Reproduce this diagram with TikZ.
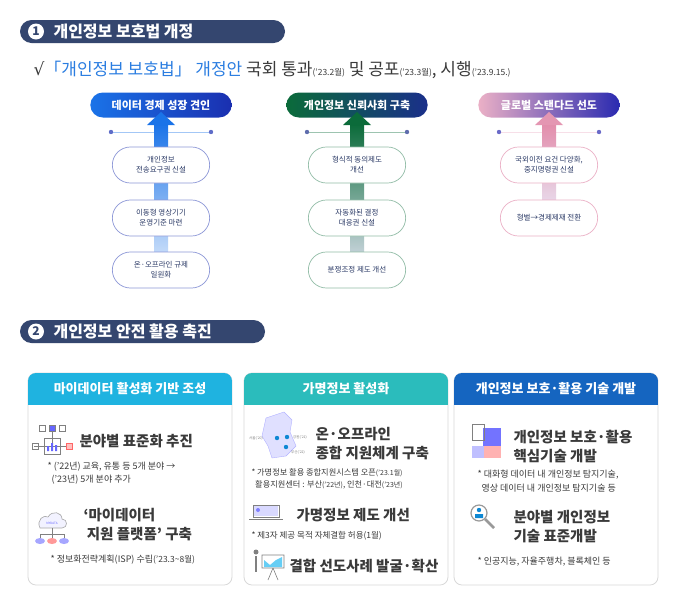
\documentclass[tikz,border=0pt]{standalone}
\usepackage{fontspec}
\setmainfont{Noto Sans CJK KR}
\newfontfamily\djv{DejaVu Sans}
\usetikzlibrary{shapes.misc,arrows.meta}
\definecolor{navy}{HTML}{34466F}
\definecolor{txt}{HTML}{3A3A3A}
\definecolor{blu}{HTML}{2A7DE1}
\definecolor{cyanh}{HTML}{1FB3E0}
\definecolor{tealh}{HTML}{2BBCBC}
\definecolor{blueh}{HTML}{1565C0}
\definecolor{c1a}{HTML}{1A73E8}\definecolor{c1b}{HTML}{1A2FB0}
\definecolor{c2a}{HTML}{0B6B3A}\definecolor{c2b}{HTML}{1A2F8A}
\definecolor{c3a}{HTML}{EBB0C6}\definecolor{c3b}{HTML}{2A2AB0}
\definecolor{pilltxt}{HTML}{2B3A66}
\tikzset{
 secbar/.style={fill=navy,rounded corners=11.5},
 sectext/.style={anchor=west,text=white,font=\fontsize{16}{18}\selectfont\bfseries},
 colhead/.style={rounded rectangle,text=white,minimum width=148,minimum height=25,font=\fontsize{11}{13}\selectfont\bfseries},
 pill/.style={rounded rectangle,fill=white,draw=#1,line width=0.7,minimum width=104,minimum height=36,align=center,text=pilltxt,font=\fontsize{7.5}{10}\selectfont},
 box/.style={rounded corners=8,draw=black!15,fill=white,line width=0.8},
 bh/.style={text=white,font=\fontsize{13}{15}\selectfont\bfseries},
 big/.style={anchor=west,text=txt,align=left,font=\fontsize{14.5}{19}\selectfont\bfseries},
 note/.style={anchor=west,text=txt,align=left,font=\fontsize{9}{13.5}\selectfont},
 numc/.style={circle,fill=white,minimum size=16,inner sep=0,text=navy,font=\fontsize{12}{12}\selectfont\bfseries},
}
\newcommand{\sm}[1]{{\fontsize{8.5}{9}\selectfont #1}}
\begin{document}
\begin{tikzpicture}[x=1pt,y=-1pt]
\useasboundingbox (0,0) rectangle (688,606);
\fill[white] (0,0) rectangle (688,606);
% section 1
\fill[secbar] (20,20) rectangle (285,43);
\node[numc] (n1) at (36,31.5) {1};
\node[sectext] (s1) at (50,31.5) {개인정보 보호법 개정};
\node[anchor=west,text=txt,font=\fontsize{17}{20}\selectfont] (law) at (30,70) {{\djv √}\textcolor{blu}{「개인정보 보호법」 개정안} 국회 통과\sm{('23.2월)} 및 공포\sm{('23.3월)}, 시행\sm{('23.9.15.)}};
% columns
\foreach \cx/\ca/\cb/\n/\t in {161/c1a/c1b/1/데이터 경제 성장 견인,357/c2a/c2b/2/개인정보 신뢰사회 구축,549/c3a/c3b/3/글로벌 스탠다드 선도}{
  \draw[\ca!40,line width=0.6] (\cx-50,132) -- (\cx+50,132);
  \fill[\cb!70] (\cx-50,132) circle (2.2) (\cx+50,132) circle (2.2);
  \node[colhead,left color=\ca,right color=\cb] (h\n) at (\cx,105) {\t};
}
% arrows
\shade[top color=c1a,bottom color=c1a!15] (154,124) rectangle (168,272);
\fill[c1a] (147,125) -- (161,112) -- (175,125) -- cycle;
\shade[top color=c2a,bottom color=c2b!15] (350,124) rectangle (364,272);
\fill[c2a] (343,125) -- (357,112) -- (371,125) -- cycle;
\shade[top color=c3a!80!purple,bottom color=c3b!10] (542,124) rectangle (556,220);
\fill[c3a!85!purple] (535,125) -- (549,112) -- (563,125) -- cycle;
% pills
\node[pill=c1b!50] (p11) at (161,165) {개인정보\\전송요구권 신설};
\node[pill=c1b!50] (p12) at (161,218) {이동형 영상기기\\운영기준 마련};
\node[pill=c1b!50] (p13) at (161,270) {온·오프라인 규제\\일원화};
\node[pill=c2a!45] (p21) at (357,165) {형식적 동의제도\\개선};
\node[pill=c2a!45] (p22) at (357,218) {자동화된 결정\\대응권 신설};
\node[pill=c2a!45] (p23) at (357,270) {분쟁조정 제도 개선};
\node[pill=c3a] (p31) at (549,165) {국외이전 요건 다양화,\\중지명령권 신설};
\node[pill=c3a] (p32) at (549,218) {형벌→경제제재 전환};
% section 2
\fill[secbar] (20,320) rectangle (265,343);
\node[numc] (n2) at (36,331.5) {2};
\node[sectext] (s2) at (50,331.5) {개인정보 안전 활용 촉진};
% boxes
\foreach \x/\c/\n/\t in {28/cyanh/1/마이데이터 활성화 기반 조성,244/tealh/2/가명정보 활성화,454/blueh/3/개인정보 보호·활용 기술 개발}{
  \draw[box] (\x,373) rectangle (\x+204,585);
  \begin{scope}
  \clip[rounded corners=8] (\x,373) rectangle (\x+204,430);
  \fill[\c] (\x,373) rectangle (\x+204,405);
  \end{scope}
  \node[bh] (b\n) at (\x+102,389) {\t};
}
% box1
\begin{scope}[line width=0.6]
\draw[gray] (39,425) rectangle (45,431) (49,425) rectangle (55,431) (59,425) rectangle (65,431);
\fill[blue!60] (49.5,425.5) rectangle (54.5,430.5);
\draw[gray] (52,431) -- (52,446) (34,446) -- (70,446);
\draw[gray] (32,443) rectangle (38,449);
\draw[red!60,fill=red!25] (66,443) rectangle (72,449);
\draw[gray] (44,438) rectangle (60,454);
\fill[blue!60] (47,446) rectangle (49,451) (51,443) rectangle (53,451) (55,445) rectangle (57,451);
\end{scope}
\node[big] (t11) at (76,441) {분야별 표준화 추진};
\node[note] (t12) at (44,473) {* ('22년) 교육, 유통 등 5개 분야 →\\\ \ ('23년) 5개 분야 추가};
\begin{scope}[line width=0.6]
\draw[gray!70,fill=blue!5] (40,528) .. controls (36,520) and (44,514) .. (48,517) .. controls (52,510) and (62,512) .. (62,519) .. controls (68,519) and (68,528) .. (62,528) -- cycle;
\node[font=\fontsize{3}{3}\selectfont,text=blue!60] (md) at (52,523) {MYDATA};
\draw[gray] (52,528) -- (52,534) (40,534) -- (64,534) (40,534) -- (40,538) (52,534) -- (52,538) (64,534) -- (64,538);
\fill[blue!35] (40,541) ellipse (5 and 3);
\fill[red!40] (52,541) ellipse (5 and 3);
\fill[blue!35] (64,541) ellipse (5 and 3);
\end{scope}
\node[big] (t13) at (80,525) {‘마이데이터\\\ 지원 플랫폼’ 구축};
\node[note] (t14) at (47,560) {* 정보화전략계획(ISP) 수립\sm{('23.3\textasciitilde8월)}};
% box2
\fill[blue!12,draw=blue!30,line width=0.4] (266,418) -- (284,412) -- (292,420) -- (290,432) -- (296,446) -- (286,456) -- (272,458) -- (268,446) -- (262,436) -- cycle;
\fill[cyan!70!blue] (277,438) circle (2.2) (287,437) circle (2.2) (286,447) circle (2.2);
\node[font=\fontsize{3.5}{4}\selectfont,text=gray] (m1) at (256,438) {서울('20)};
\node[font=\fontsize{3.5}{4}\selectfont,text=gray] (m2) at (300,437) {강원('21)};
\node[font=\fontsize{3.5}{4}\selectfont,text=gray] (m3) at (298,452) {부산('22)};
\node[big] (t21) at (312,443.5) {온·오프라인\\종합 지원체계 구축};
\node[note,font=\fontsize{8.2}{12.5}\selectfont] (t22) at (248,479) {* 가명정보 활용 종합지원시스템 오픈{\fontsize{7}{9}\selectfont ('23.1월)}\\\ \ 활용지원센터 : 부산{\fontsize{7}{9}\selectfont ('22년)}, 인천·대전{\fontsize{7}{9}\selectfont ('23년)}};
\draw[gray,line width=0.6] (253,505) rectangle (279,517);
\fill[blue!15] (254,506) rectangle (278,516);
\draw[gray,line width=0.8] (249,519) -- (283,519);
\fill[blue!50] (258,510) circle (2);
\node[big] (t23) at (293,515) {가명정보 제도 개선};
\node[note,font=\fontsize{8.5}{12}\selectfont] (t24) at (248,536) {* 제3자 제공 목적 자체결합 허용\sm{(1월)}};
\draw[gray,line width=0.6] (262,555) rectangle (284,568) (273,568) -- (268,580) (273,568) -- (278,580);
\fill[cyan!60] (264,560) -- (270,565) -- (276,560) -- (282,557) -- (282,567) -- (264,567) -- cycle;
\fill[gray] (256,552) circle (2.5);
\draw[gray,line width=2] (256,556) -- (256,572);
\node[big] (t25) at (286,566) {결합 선도사례 발굴·확산};
% box3
\fill[blue!55] (483,428) rectangle (501,446);
\fill[red!30] (483,446) rectangle (501,458);
\fill[blue!25] (472,446) rectangle (484,458);
\draw[gray,line width=0.6] (472,424) rectangle (484,440);
\node[big] (t31) at (510,447) {개인정보 보호·활용\\핵심기술 개발};
\node[note] (t32) at (474,481) {* 대화형 데이터 내 개인정보 탐지기술,\\\ \ 영상 데이터 내 개인정보 탐지기술 등};
\draw[gray!80,line width=1.2] (479,513) circle (8);
\draw[gray!80,line width=2.5] (485,519) -- (494,528);
\fill[cyan!70!blue] (479,510) circle (2.2) (475,518) rectangle (483,514);
\node[big] (t33) at (510,527) {분야별 개인정보\\기술 표준개발};
\node[note] (t34) at (474,562) {* 인공지능, 자율주행차, 블록체인 등};
\end{tikzpicture}
\end{document}
